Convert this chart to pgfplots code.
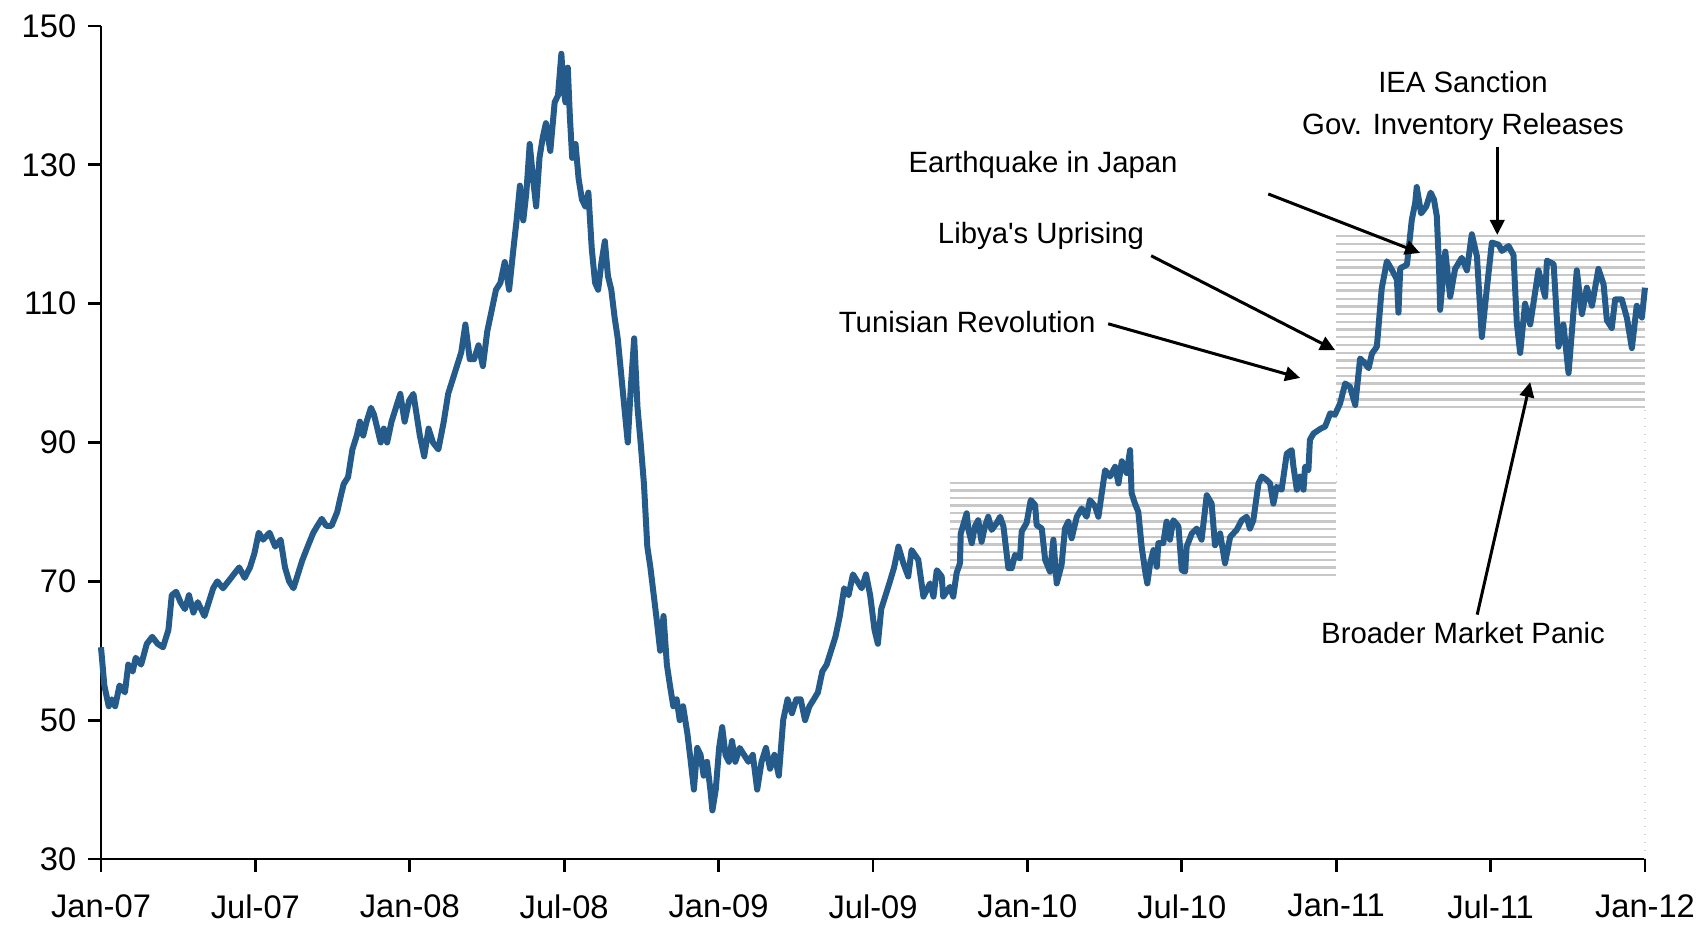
\documentclass[border=0pt]{standalone}
\usepackage{fontspec}
\setmainfont{Liberation Sans}
\usepackage{pgfplots}
\pgfplotsset{compat=1.18}
\usetikzlibrary{arrows.meta}

\definecolor{oilblue}{RGB}{36,91,138}
\definecolor{bandgray}{RGB}{200,200,200}
\newcommand{\annfont}{\fontsize{8.8}{11}\selectfont}

% Weekly price path, x in months since Jan-07
\pgfplotstableread{
m p
0.00 60.5
0.13 55
0.30 52
0.42 53
0.55 52
0.72 55
0.93 54
1.06 58
1.23 57
1.35 59
1.56 58
1.78 61
1.99 62
2.20 61
2.41 60.5
2.62 63
2.75 68
2.92 68.5
3.09 67
3.26 66
3.42 68
3.59 65.5
3.76 67
4.02 65
4.19 67
4.36 69
4.52 70
4.74 69
4.95 70
5.16 71
5.37 72
5.58 70.5
5.79 72
5.96 74
6.13 77
6.30 76
6.55 77
6.77 75
6.98 76
7.15 72
7.31 70
7.48 69
7.65 71
7.82 73
8.03 75
8.25 77
8.41 78
8.58 79
8.75 78
8.96 78
9.18 80
9.30 82
9.43 84
9.60 85
9.77 89
9.94 91
10.06 93
10.19 91
10.32 93
10.49 95
10.61 94
10.74 92
10.87 90
10.99 92
11.12 90
11.29 93
11.46 95
11.63 97
11.80 93
11.97 96
12.14 97
12.39 91
12.56 88
12.73 92
12.90 90
13.11 89
13.32 93
13.49 97
13.66 99
13.83 101
14.00 103
14.16 107
14.33 102
14.50 102
14.67 104
14.84 101
15.01 106
15.18 109
15.35 112
15.52 113
15.69 116
15.86 112
16.03 118
16.15 122
16.28 127
16.41 122
16.53 126
16.66 133
16.79 128
16.91 124
17.04 131
17.17 134
17.29 136
17.46 132
17.63 139
17.76 140
17.89 146
17.97 141
18.05 139
18.14 144
18.22 137
18.31 131
18.44 133
18.56 128
18.69 125
18.82 124
18.94 126
19.07 118
19.20 113
19.32 112
19.45 116
19.58 119
19.70 114
19.83 112
19.96 108
20.08 105
20.21 100
20.34 95
20.47 90
20.59 98
20.72 105
20.85 95
20.97 90
21.10 84
21.23 75
21.35 72
21.48 68
21.61 64
21.73 60
21.86 65
21.99 58
22.11 55
22.24 52
22.37 53
22.49 50
22.62 52
22.79 48
22.92 44
23.04 40
23.17 46
23.30 45
23.42 42
23.55 44
23.68 40
23.76 37
23.89 40
24.02 46
24.14 49
24.27 45
24.40 44
24.52 47
24.65 44
24.82 46
24.99 45
25.16 44
25.33 45
25.50 40
25.67 44
25.84 46
26.00 43
26.17 45
26.34 42
26.51 50
26.68 53
26.85 51
27.02 53
27.19 53
27.36 50
27.53 52
27.70 53
27.86 54
28.03 57
28.20 58
28.37 60
28.54 62
28.71 65
28.88 69
29.05 68
29.22 71
29.39 70
29.56 69
29.73 71
29.89 68
30.06 63
30.19 61
30.32 66
30.49 68
30.66 70
30.82 72
30.99 75
31.18 72.6
31.37 70.7
31.50 74.5
31.63 73.8
31.76 73.1
31.96 67.8
32.22 69.7
32.35 67.8
32.48 71.6
32.67 70.7
32.73 67.8
32.99 69.2
33.12 67.8
33.25 71.2
33.38 72.6
33.41 76.9
33.64 79.8
33.71 77.4
33.84 75.5
33.96 77.9
34.09 78.8
34.22 75.7
34.35 77.9
34.48 79.3
34.61 77.4
34.81 78.4
34.94 79.3
35.07 77.9
35.26 71.9
35.39 71.9
35.52 73.8
35.71 73.3
35.78 77.2
35.97 78.4
36.13 81.7
36.30 81.0
36.36 78.1
36.56 77.6
36.69 73.1
36.88 71.4
37.01 76.0
37.14 69.7
37.33 72.4
37.46 77.6
37.59 78.6
37.72 76.2
37.92 79.3
38.11 80.5
38.30 79.3
38.43 81.7
38.63 80.8
38.76 79.3
38.89 82.7
39.02 86.0
39.21 85.1
39.41 86.5
39.54 84.1
39.67 87.3
39.86 85.6
39.99 88.9
40.05 82.7
40.18 81.2
40.31 80.0
40.44 75.0
40.57 71.6
40.66 69.7
40.77 72.6
40.90 74.5
41.03 72.1
41.09 75.5
41.28 75.5
41.41 78.6
41.54 76.0
41.67 78.8
41.87 77.9
42.00 71.6
42.13 71.4
42.19 75.0
42.39 76.9
42.58 77.6
42.77 76.0
42.97 82.4
43.16 81.2
43.29 75.2
43.49 76.9
43.68 72.6
43.88 76.4
44.13 77.4
44.33 78.8
44.52 79.3
44.65 77.6
44.78 78.8
44.98 84.1
45.11 85.1
45.30 84.6
45.43 84.1
45.56 81.2
45.69 83.6
45.88 83.2
46.08 88.4
46.27 88.9
46.34 86.5
46.47 83.2
46.60 85.1
46.73 83.2
46.79 86.5
46.92 86.0
46.98 90.4
47.12 91.3
47.40 92.0
47.57 92.3
47.77 94.2
47.95 94.0
48.15 95.6
48.35 98.5
48.54 98.0
48.74 95.4
48.93 102.1
49.10 101.5
49.26 100.7
49.39 102.8
49.58 103.8
49.77 112.2
49.97 116.1
50.16 114.9
50.36 113.5
50.42 108.7
50.49 115.1
50.75 115.6
50.94 122.1
51.07 124.5
51.13 126.8
51.30 123.0
51.50 124.0
51.67 126.0
51.80 125.0
51.91 122.6
52.00 115.0
52.04 109.1
52.24 117.5
52.43 111.0
52.62 115.0
52.88 116.6
53.08 114.8
53.27 120.0
53.47 116.8
53.66 105.2
53.85 112.0
54.05 118.8
54.31 118.5
54.44 117.6
54.70 118.3
54.89 117.0
55.02 107.2
55.15 102.9
55.34 110.0
55.54 107.0
55.86 114.8
56.12 111.0
56.19 116.2
56.45 115.7
56.64 103.8
56.83 107.0
57.03 100.0
57.35 114.8
57.55 108.5
57.74 112.3
57.94 109.7
58.19 115.0
58.39 112.8
58.52 107.6
58.71 106.5
58.84 110.6
59.10 110.6
59.30 107.9
59.49 103.6
59.68 109.7
59.88 108.0
60.00 112.3
}\pricedata

\begin{document}
\begin{tikzpicture}
\useasboundingbox (-30.3pt,-20.1pt) rectangle (481.5pt,257.7pt);
\begin{axis}[
  at={(0,0)}, anchor=south west,
  scale only axis, width=463.2pt, height=249.9pt,
  xmin=0, xmax=60, ymin=30, ymax=150,
  axis lines=left,
  axis line style={-, black, line width=0.85pt},
  tick align=outside,
  major tick length=3.9pt,
  tick style={black, line width=0.85pt},
  xtick={0,6,12,18,24,30,36,42,48,54,60},
  xticklabels={Jan-07,Jul-07,Jan-08,Jul-08,Jan-09,Jul-09,Jan-10,Jul-10,Jan-11,Jul-11,Jan-12},
  ytick={30,50,70,90,110,130,150},
  tick label style={font=\fontsize{9.8}{11}\selectfont},
  xticklabel style={yshift=-3.2pt},
  /pgf/number format/assume math mode=true,
  clip=false,
]
% hatched bands
\pgfplotsinvokeforeach{70.9,72.0,73.1,74.2,75.3,76.4,77.5,78.6,79.8,80.9,82.0,83.1,84.2}{
  \addplot[bandgray, line width=0.7pt, forget plot] coordinates {(33,#1) (48,#1)};
}
\pgfplotsinvokeforeach{95.1,96.2,97.3,98.5,99.6,100.7,101.8,102.9,104.0,105.2,106.3,107.4,108.5,109.6,110.7,111.9,113.0,114.1,115.2,116.3,117.4,118.6,119.7}{
  \addplot[bandgray, line width=0.7pt, forget plot] coordinates {(48,#1) (60,#1)};
}
\addplot[gray!35, dotted, line width=0.4pt, forget plot] coordinates {(48,84.2) (48,95.1)};
\addplot[gray!35, dotted, line width=0.4pt, forget plot] coordinates {(60,30) (60,95.1)};

% price line
\addplot[oilblue, line width=1.8pt, line join=round] table[x=m, y=p] {\pricedata};

% annotations
\node[anchor=base, font=\annfont] at (axis cs:52.93,140.4) {IEA Sanction};
\node[anchor=base, font=\annfont] at (axis cs:52.93,134.3) {Gov. Inventory Releases};
\node[anchor=base, font=\annfont] at (axis cs:36.61,128.85) {Earthquake in Japan};
\node[anchor=base, font=\annfont] at (axis cs:36.53,118.6) {Libya\textquotesingle s Uprising};
\node[anchor=base, font=\annfont] at (axis cs:33.66,105.9) {Tunisian Revolution};
\node[anchor=base, font=\annfont] at (axis cs:52.93,61.1) {Broader Market Panic};

\begin{scope}[-{Triangle[length=4.5pt,width=4.3pt]}, line width=0.9pt, black]
\draw (axis cs:54.26,132.6) -- (axis cs:54.26,119.9);
\draw (axis cs:45.36,125.8) -- (axis cs:51.26,117.3);
\draw (axis cs:40.81,116.9) -- (axis cs:47.96,103.3);
\draw (axis cs:39.14,107.1) -- (axis cs:46.60,99.3);
\draw (axis cs:53.48,65.2) -- (axis cs:55.54,98.7);
\end{scope}
\end{axis}
\end{tikzpicture}
\end{document}
